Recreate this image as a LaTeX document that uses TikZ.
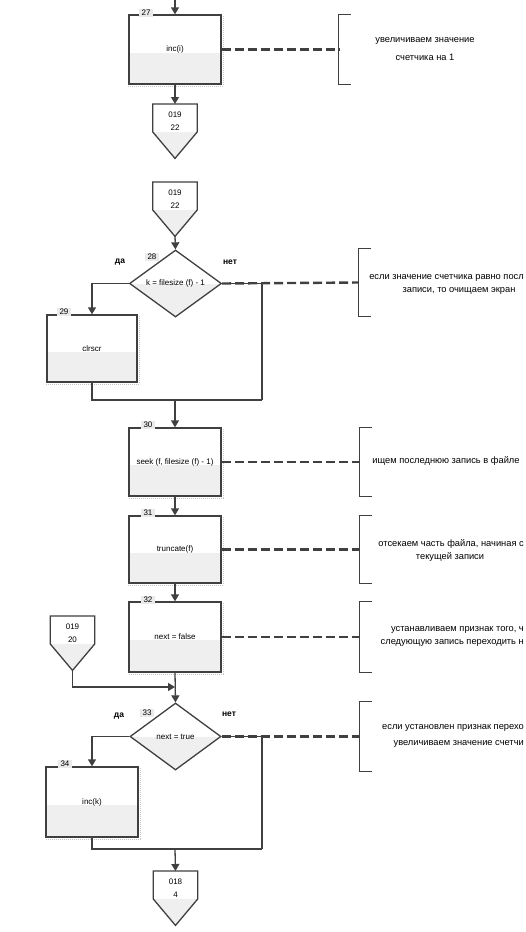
\documentclass[tikz,border=0pt]{standalone}
\usepackage{fontspec}
\setmainfont{Liberation Sans}
\usetikzlibrary{arrows.meta,shapes.geometric}
\definecolor{lc}{HTML}{404040}
\definecolor{shd}{HTML}{EFEFEF}
\definecolor{lblbg}{HTML}{EAEAEA}
\tikzset{
  ln/.style={draw=lc, line width=1.3pt},
  arr/.style={ln, -{Triangle[width=8pt,length=7pt]}},
  dsh/.style={draw=lc, line width=2.4pt, dash pattern=on 9pt off 4pt},
  txt/.style={font=\fontsize{8}{9}\selectfont, inner sep=0pt},
  cmt/.style={font=\fontsize{9.3}{10}\selectfont, inner sep=0pt},
  cmtr/.style={cmt, anchor=east},
  lbl/.style={font=\fontsize{8}{9}\selectfont, fill=lblbg, inner xsep=3pt, inner ysep=1pt},
  yn/.style={font=\bfseries\fontsize{8.5}{9}\selectfont, inner sep=0pt},
  procbox/.style={ln, minimum width=92pt, minimum height=68pt, inner sep=0pt,
    font=\fontsize{8}{9}\selectfont,
    path picture={\fill[shd] ([yshift=-3pt]path picture bounding box.west) rectangle (path picture bounding box.south east);}},
  dia/.style={ln, shape=diamond, inner sep=0pt, minimum width=92pt, minimum height=67pt,
    path picture={\fill[shd] (path picture bounding box.west) rectangle (path picture bounding box.south east);}},
  brk/.style={inner sep=0pt, minimum width=12pt},
  shadowln/.style={draw=gray!45, line width=1pt, dash pattern=on 1pt off 1pt}
}
\newcommand\offpage[5]{%
  \node[inner sep=0pt, minimum width=44pt, minimum height=54pt, anchor=north] (#1) at (#2,#3) {};
  \fill[shd] ([yshift=-28pt]#1.north west) -- (#1.south) -- ([yshift=-28pt]#1.north east) -- cycle;
  \draw[ln, line join=miter] ([yshift=-28pt]#1.north west) -- (#1.north west) -- (#1.north east) -- ([yshift=-28pt]#1.north east) -- (#1.south) -- cycle;
  \node[txt] (#1a) at ([yshift=-11pt]#1.north) {#4};
  \node[txt] (#1b) at ([yshift=-24pt]#1.north) {#5};
}
\newcommand\boxshadow[1]{%
  \draw[shadowln] ([xshift=1.6pt,yshift=-2pt]#1.north east) -- ([xshift=1.6pt,yshift=-1.6pt]#1.south east) -- ([yshift=-1.6pt]#1.south west);
}
\newcommand\bracketdraw[1]{%
  \draw[ln] (#1.north east) -- (#1.north west) -- (#1.south west) -- (#1.south east);
}
\begin{document}
\begin{tikzpicture}[x=1pt,y=-1pt]
\useasboundingbox (0,0) rectangle (526,932);
\fill[white] (0,0) rectangle (526,932);

% block 27
\coordinate (top) at (175,0);
\node[procbox, minimum height=69pt] (b27) at (175,49.5) {inc(i)};
\boxshadow{b27}
\node[lbl] (l27) at (146,13) {27};
\draw[arr] (top) -- (b27.north);
\offpage{c1}{175}{104}{019}{22}
\draw[arr] (b27.south) -- (c1.north);

% comment 27
\node[brk, minimum height=69pt] (k27) at (345,49.5) {};
\bracketdraw{k27}
\draw[dsh] (b27.east) -- (k27.west);
\node[cmt] (n27a) at (425,41) {увеличиваем значение};
\node[cmt] (n27b) at (425,57) {счетчика на 1};

% connector 2 and decision 28
\offpage{c2}{175}{182}{019}{22}
\node[dia] (d28) at (175.5,283.5) {};
\node[txt] (t28) at (d28.center) {k = filesize (f) - 1};
\node[lbl] (l28) at (152,257) {28};
\node[yn] (y28) at (120,262) {да};
\node[yn] (n28) at (230,262) {нет};
\draw[arr] (c2.south) -- (d28.north);

\node[procbox, minimum width=90pt, minimum height=67pt] (b29) at (92,348.5) {clrscr};
\boxshadow{b29}
\node[lbl] (l29) at (64,312) {29};
\draw[arr] (d28.west) -| (b29.north);

\coordinate (m28r) at (262,400);
\coordinate (m28) at (175,400);
\draw[ln] (d28.east) -| (m28r);
\draw[ln] (b29.south) |- (m28r);

\node[brk, minimum height=67pt] (k28) at (365,282.5) {};
\bracketdraw{k28}
\draw[dsh] (d28.east) -- (k28.west);
\node[cmtr] (n28a) at (524,278) {если значение счетчика равно посл};
\node[cmt] (n28b) at (459,291) {записи, то очищаем экран};

% block 30
\node[procbox] (b30) at (175,462) {seek (f, filesize (f) - 1)};
\boxshadow{b30}
\node[lbl] (l30) at (148,425) {30};
\draw[arr] (m28) -- (b30.north);
\node[brk, minimum height=68pt] (k30) at (366,462) {};
\bracketdraw{k30}
\draw[dsh] (b30.east) -- (k30.west);
\node[cmt] (n30) at (446,461) {ищем последнюю запись в файле};

% block 31
\node[procbox, minimum height=67pt] (b31) at (175,549.5) {truncate(f)};
\boxshadow{b31}
\node[lbl] (l31) at (148,513) {31};
\draw[arr] (b30.south) -- (b31.north);
\node[brk, minimum height=67pt] (k31) at (366,549.5) {};
\bracketdraw{k31}
\draw[dsh] (b31.east) -- (k31.west);
\node[cmtr] (n31a) at (524,544) {отсекаем часть файла, начиная с};
\node[cmt] (n31b) at (450,557) {текущей записи};

% block 32
\node[procbox, minimum height=70pt] (b32) at (175,637) {next = false};
\boxshadow{b32}
\node[lbl] (l32) at (148,600) {32};
\draw[arr] (b31.south) -- (b32.north);
\node[brk, minimum height=70pt] (k32) at (366,637) {};
\bracketdraw{k32}
\draw[dsh] (b32.east) -- (k32.west);
\node[cmtr] (n32a) at (524,630) {устанавливаем признак того, ч};
\node[cmtr] (n32b) at (524,643) {следующую запись переходить н};

% connector 3
\offpage{c3}{72.5}{616}{019}{20}
\coordinate (j33) at (175,687);

% decision 33
\node[dia, minimum width=91pt] (d33) at (175.5,736.5) {};
\node[txt] (t33) at (d33.center) {next = true};
\node[lbl] (l33) at (147,713) {33};
\node[yn] (y33) at (119,716) {да};
\node[yn] (n33) at (229,714) {нет};
\draw[arr] (b32.south) -- (d33.north);
\draw[arr] (c3.south) |- (j33);

\node[procbox, minimum height=70pt] (b34) at (92,802) {inc(k)};
\boxshadow{b34}
\node[lbl] (l34) at (65,764) {34};
\draw[arr] (d33.west) -| (b34.north);

\coordinate (m33r) at (262,849);
\coordinate (m33) at (175,849);
\draw[ln] (d33.east) -| (m33r);
\draw[ln] (b34.south) |- (m33r);

\node[brk, minimum height=69pt] (k33) at (366,736.5) {};
\bracketdraw{k33}
\draw[dsh] (d33.east) -- (k33.west);
\node[cmtr] (n33a) at (524,728) {если установлен признак перехо};
\node[cmtr] (n33b) at (524,744) {увеличиваем значение счетчи};

% connector 4
\offpage{c4}{175.5}{871}{018}{4}
\draw[arr] (m33) -- (c4.north);
\end{tikzpicture}
\end{document}
